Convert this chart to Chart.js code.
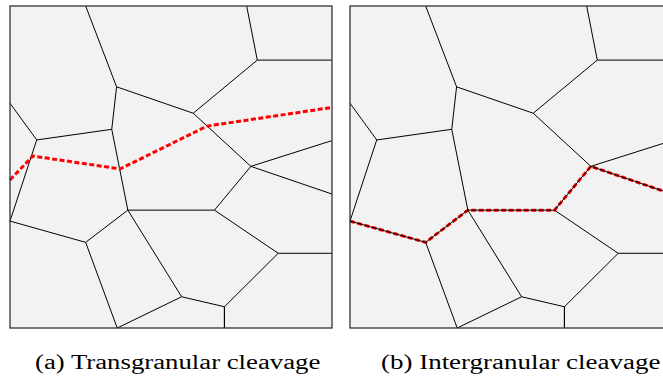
<!DOCTYPE html>
<html>
<head>
<meta charset="utf-8">
<script src="https://cdn.jsdelivr.net/npm/chart.js@4.4.1/dist/chart.umd.min.js"></script>
<style>
  html, body { margin: 0; padding: 0; background: #fff; width: 663px; height: 378px; overflow: hidden; }
  .panel { position: absolute; top: 0; width: 340px; height: 340px; }
  .caption { position: absolute; top: 352px; font-family: 'Liberation Serif', 'DejaVu Serif', serif; font-size: 20px; line-height: 20px; color: #000; white-space: nowrap; transform-origin: 0 0; }
</style>
</head>
<body>
<div class="panel" style="left:0"><canvas id="panelA" width="340" height="340"></canvas></div>
<div class="panel" style="left:340px"><canvas id="panelB" width="340" height="340"></canvas></div>
<div class="caption" id="capA" style="left:35px">(a) Transgranular cleavage</div>
<div class="caption" id="capB" style="left:381px">(b) Intergranular cleavage</div>
<script>
// grain boundary junctions, in a 0..100 square
const nodeIds = ['T1', 'A', 'L1', 'C', 'D', 'E', 'F', 'G', 'B1', 'H', 'I', 'J', 'R1', 'R2', 'B', 'K', 'T2', 'R3', 'L', 'R4', 'M', 'B2'];
const nodeX = [23.5, 33.1, 0, 8.3, 31.6, 36.6, 0, 23.5, 33.3, 53.3, 63.5, 74.8, 100, 100, 56.9, 76.8, 73.5, 100, 83.3, 100, 66.6, 66.6];
const nodeY = [100, 74.9, 69.8, 58.4, 61.7, 36.6, 33.2, 26.6, 0, 9.7, 36.6, 50.2, 58.2, 41.6, 66.7, 83.2, 100, 83.2, 23.2, 23.2, 6.6, 0];

// boundaries between grains
const edges = [
  ['T1', 'A'], ['A', 'B'], ['L1', 'C'], ['C', 'D'], ['A', 'D'], ['D', 'E'],
  ['C', 'F'], ['F', 'G'], ['G', 'E'], ['G', 'B1'], ['B1', 'H'], ['E', 'H'],
  ['E', 'I'], ['I', 'J'], ['J', 'R1'], ['J', 'R2'], ['B', 'J'], ['B', 'K'],
  ['K', 'T2'], ['K', 'R3'], ['I', 'L'], ['L', 'R4'], ['L', 'M'], ['M', 'B2'], ['H', 'M']
];

// crack through the grains
const crackAX = [0, 7.1, 34.2, 61.2, 100];
const crackAY = [46.0, 53.4, 49.4, 62.7, 68.5];

// crack along the boundaries
const crackBPath = ['F', 'G', 'E', 'I', 'J', 'R2'];

const pt = id => { const i = nodeIds.indexOf(id); return { x: nodeX[i], y: nodeY[i] }; };

function grainSets() {
  return edges.map(([a, b]) => ({
    data: [pt(a), pt(b)],
    borderColor: '#000',
    borderWidth: 1,
    pointRadius: 0,
    showLine: true,
    clip: false,
    order: 1
  }));
}

function crackSet(points, width, onTop) {
  return {
    data: points,
    borderColor: '#ff0000',
    borderWidth: width,
    borderDash: [5, 2.5],
    pointRadius: 0,
    showLine: true,
    clip: false,
    order: onTop ? 0 : 2
  };
}

const boxPlugin = {
  id: 'box',
  beforeDatasetsDraw(chart) {
    const a = chart.chartArea, ctx = chart.ctx;
    ctx.save();
    ctx.fillStyle = '#f2f2f2';
    ctx.fillRect(a.left, a.top, a.right - a.left, a.bottom - a.top);
    ctx.restore();
  },
  afterDatasetsDraw(chart) {
    const a = chart.chartArea, ctx = chart.ctx;
    ctx.save();
    ctx.strokeStyle = '#333';
    ctx.lineWidth = 1.3;
    ctx.strokeRect(a.left, a.top, a.right - a.left, a.bottom - a.top);
    ctx.restore();
  }
};

function makePanel(id, crack) {
  new Chart(document.getElementById(id), {
    type: 'scatter',
    data: { datasets: grainSets().concat([crack]) },
    options: {
      responsive: false,
      animation: false,
      layout: { padding: { left: 10, top: 6, right: 8, bottom: 12 } },
      plugins: { legend: { display: false }, tooltip: { enabled: false } },
      scales: {
        x: { type: 'linear', min: 0, max: 100, display: false },
        y: { type: 'linear', min: 0, max: 100, display: false }
      }
    },
    plugins: [boxPlugin]
  });
}

makePanel('panelA', crackSet(crackAX.map((x, i) => ({ x, y: crackAY[i] })), 3, true));
makePanel('panelB', crackSet(crackBPath.map(pt), 3, false));

// captions are set wide, stretch them to their span
[['capA', 285], ['capB', 279]].forEach(([id, span]) => {
  const el = document.getElementById(id);
  el.style.transform = 'scaleX(' + (span / el.offsetWidth) + ')';
});
</script>
</body>
</html>
